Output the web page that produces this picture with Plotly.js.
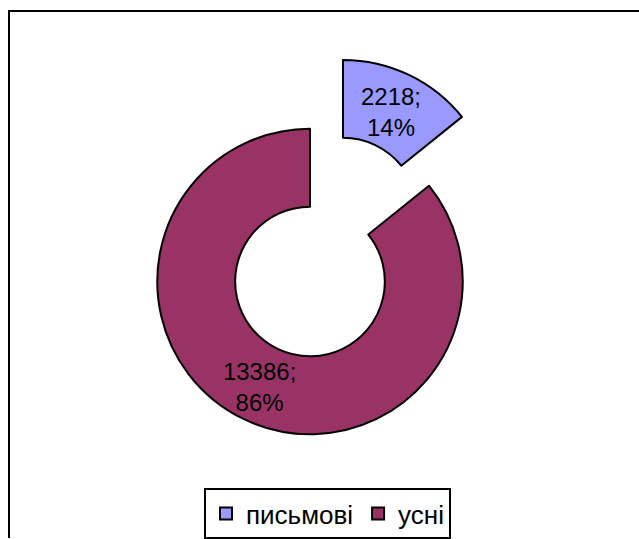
<!DOCTYPE html>
<html>
<head>
<meta charset="utf-8">
<script src="https://cdn.plot.ly/plotly-3.0.1.min.js"></script>
<style>
html,body{margin:0;padding:0;background:#fff;}
#chart{width:639px;height:539px;}
</style>
</head>
<body>
<div id="chart"></div>
<script>
var labels = ["письмові", "усні"];
var values = [2218, 13386];
var colors = ["#9999FF", "#993366"];
var pulls = [0.5, 0];
var labelPulls = [0.425, 0];

var W = 639, H = 539;
var FONT = "Liberation Sans, Arial, sans-serif";
var cx = 310, cy = 282;

function domainFor(radius, maxPull) {
  var half = radius * (1 + maxPull);
  return {
    x: [(cx - half) / W, (cx + half) / W],
    y: [(H - (cy + half)) / H, (H - (cy - half)) / H]
  };
}

// ring with outlines (no text)
var ring = {
  type: "pie",
  labels: labels,
  values: values,
  hole: 0.49,
  sort: false,
  direction: "clockwise",
  rotation: 0,
  pull: pulls,
  marker: {colors: colors, line: {color: "#000000", width: 2}},
  textinfo: "none",
  hoverinfo: "none",
  domain: domainFor(153, 0.5)
};

// transparent copy carrying the data labels
var textLayer = {
  type: "pie",
  labels: labels,
  values: values,
  hole: 0.4,
  sort: false,
  direction: "clockwise",
  rotation: 0,
  pull: labelPulls,
  showlegend: false,
  marker: {colors: ["rgba(0,0,0,0)", "rgba(0,0,0,0)"], line: {width: 0}},
  texttemplate: "%{value:d};<br>%{percent:.0%}",
  textposition: "inside",
  insidetextorientation: "horizontal",
  textfont: {family: FONT, size: 24, color: "#000000"},
  hoverinfo: "none",
  domain: domainFor(167, 0.425)
};

var layout = {
  width: W,
  height: H,
  margin: {l: 0, r: 0, t: 0, b: 0},
  paper_bgcolor: "#ffffff",
  showlegend: true,
  legend: {
    orientation: "h",
    x: 327.5 / W,
    xanchor: "center",
    y: 1 - 489 / H,
    yanchor: "top",
    bordercolor: "#000000",
    borderwidth: 2,
    bgcolor: "#ffffff",
    font: {family: FONT, size: 26, color: "#000000"},
    itemwidth: 30,
    traceorder: "normal"
  },
  shapes: [
    {type: "line", xref: "paper", yref: "paper", x0: 9 / W, x1: 1, y0: 1 - 11 / H, y1: 1 - 11 / H, line: {color: "#000000", width: 2}},
    {type: "line", xref: "paper", yref: "paper", x0: 9 / W, x1: 9 / W, y0: 1 - 10 / H, y1: 0, line: {color: "#000000", width: 2}}
  ]
};

Plotly.newPlot("chart", [ring, textLayer], layout, {staticPlot: true, displayModeBar: false});
</script>
</body>
</html>
